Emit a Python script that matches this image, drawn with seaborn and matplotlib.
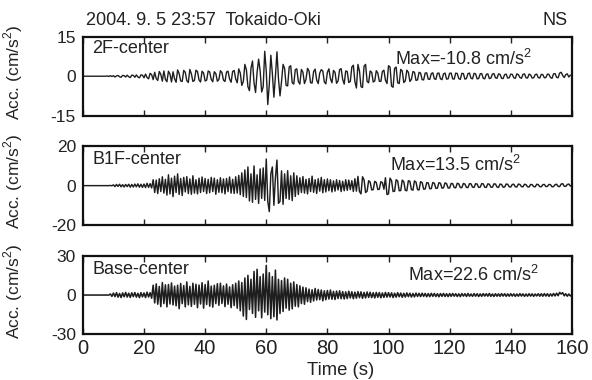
import numpy as np
import pandas as pd
import matplotlib
matplotlib.use("Agg")
import matplotlib.pyplot as plt
import seaborn as sns

# sampled acceleration records (cm/s^2), one value every 0.5 s from 0 to 160 s
DT = 0.5

ACC_2F = [
    0, 0, 0, 0, 0, 0, 0, 0, 0, 0, 0, 0, 0, 0, 0, 0, 0.1, -0.1, 0.2, -0.1,
    0.2, -0.3, 0.1, 0.3, -0.2, -0.4, 0.3, 0.2, -0.3, 0.4, -0.2, -0.5, 0.4, 0.3, -0.4, 0.5, -0.3, -0.6, 0.5, 0.4,
    -0.6, 0.8, -0.5, -1.0, 1.1, 0.6, -1.3, 1.5, -0.9, -1.6, 1.8, 0.7, -1.9, 2.0, -1.2, -2.1, 1.9, 0.8, -2.2, 1.7,
    -1.0, -2.3, 2.4, 1.0, -1.8, -2.0, 2.2, 1.5, -1.7, -2.4, 2.6, 0.9, -2.0, -1.6, 2.3, 1.8, -1.4, -2.2, 1.9, 1.2,
    -1.8, -1.5, 2.0, 1.6, -1.2, -2.1, 1.7, 1.0, -1.9, -1.3, 2.1, 1.4, -1.5, -2.0, 1.6, 1.9, -1.1, -2.3, 1.8, 2.2,
    -1.0, -2.5, 2.8, 1.2, -3.5, -2.0, 4.5, 2.5, -4.0, -5.5, 3.0, 5.8, -2.5, -6.2, 1.5, 6.5, 2.0, -6.0, -4.0, 9.5,
    2.0, -10.8, -3.0, 8.0, 1.0, -8.0, 0.0, 9.3, -1.0, -7.5, -2.0, 4.5, 3.0, -3.5, -3.7, 3.5, 4.0, -2.5, -3.0, 2.5,
    2.8, -2.0, -3.0, 2.6, 1.5, -2.8, -1.2, 3.0, 2.0, -2.5, -2.6, 1.8, 2.7, -1.5, -2.8, 1.2, 2.5, 2.0, -2.2, -2.9,
    1.5, 2.8, -1.0, -2.5, 2.2, 1.5, -2.7, -1.8, 2.5, 2.9, -1.2, -3.0, 2.0, 1.8, -2.4, -2.0, 3.5, 4.2, -2.0, -4.5,
    4.5, 2.0, -4.0, -4.3, 3.8, 4.5, -2.0, -2.5, 2.0, 1.5, -2.2, -1.8, 2.1, 1.2, -1.9, -2.0, 1.8, 2.3, -1.5, -2.8,
    4.0, 3.5, -3.8, -4.2, 3.0, 3.5, -2.5, -2.8, 2.6, 2.0, -2.4, -1.8, 2.3, 1.5, -2.0, -1.2, 1.8, 1.5, -1.6, -1.4,
    1.5, 1.2, -1.3, -1.4, 1.2, 1.3, -1.1, -1.2, 1.0, 1.3, -1.0, -1.2, 1.1, 1.2, -1.0, -1.3, 0.9, 1.2, -1.1, -1.0,
    1.1, 1.2, -1.0, -1.1, 1.2, 1.0, -0.9, -1.2, 1.1, 1.0, -1.1, -0.9, 1.0, 1.2, -0.8, -1.0, 1.1, 0.9, -1.0, -0.9,
    0.9, 1.0, -0.8, -1.0, 0.7, 0.9, -0.9, -0.7, 0.8, 1.0, -0.6, -0.8, 0.9, 0.7, -0.8, -0.9, 0.6, 0.8, -0.7, -0.6,
    0.8, 0.7, -0.6, -0.8, 0.9, 0.6, -0.5, -0.8, 0.7, 0.9, -0.6, -0.7, 0.8, 0.5, -0.7, -0.6, 0.6, 0.8, -0.5, -0.7,
    0.7, 0.6, -0.6, -0.5, 0.8, 0.7, -0.5, -0.8, 0.9, 1.0, -0.4, -0.6, 1.2, 1.5, 0.3, -0.5, 0.6, 0.9, -0.3, 0.4,
    0.2,
]

ACC_B1F = [
    0, 0, 0, 0, 0, 0, 0, 0, 0, 0, 0, 0, 0, 0, 0, 0, 0, 0, 0.1, -0.1,
    0.4, -0.5, 0.6, -0.4, 0.7, -0.6, 0.5, -0.7, 0.6, -0.5, 0.7, -0.8, 0.6, -0.7, 0.8, -0.6, 0.9, -0.8, 0.7, -0.9,
    0.8, -1.0, 1.2, -0.9, 1.0, -1.2, 3.0, -3.5, 2.8, -4.0, 3.5, -3.0, 4.5, -3.8, 3.2, -4.8, 5.5, -4.2, 3.8, -5.6,
    4.8, -3.5, 6.0, -4.5, 3.6, -5.0, 4.2, -3.2, 4.6, -4.0, 3.4, -4.4, 5.0, -3.8, 3.0, -4.2, 3.8, -3.5, 4.4, -3.0,
    3.6, -4.0, 3.2, -3.6, 4.2, -3.0, 3.8, -4.4, 3.0, -3.4, 4.0, -3.6, 3.4, -4.2, 3.6, -3.0, 4.4, -3.8, 3.2, -4.0,
    4.5, -3.8, 5.2, -4.6, 6.5, -5.5, 8.0, -6.0, 9.5, -7.8, 6.0, -8.5, 10.0, -7.0, 5.5, -9.0, 8.5, -6.5, 9.0, -7.5,
    13.5, -8.0, -13.2, 6.0, 9.5, -10.0, 4.0, 13.0, -9.0, -8.0, 7.5, -9.5, 6.0, -6.5, 7.6, -7.0, 5.0, -7.6, 6.5, -5.5,
    5.0, -4.5, 4.0, -3.5, 4.6, -3.8, 3.2, -4.2, 3.6, -3.0, 4.8, -3.4, 3.0, -4.0, 3.5, -2.8, 4.2, -3.6, 3.0, -3.2,
    3.4, -2.6, 3.0, -3.2, 2.4, -2.8, 3.0, -2.2, 2.6, -3.0, 2.2, -2.6, 3.0, -2.4, 2.8, -2.0, 2.5, -3.0, 3.5, -2.8,
    4.7, -3.0, -4.2, 4.5, 3.0, -3.5, -2.8, 2.5, 1.8, -2.2, -2.0, 2.2, 1.6, -2.0, -1.8, 2.0, 1.5, -1.8, 4.0, -4.5,
    -4.2, 3.8, 2.5, -3.0, -2.8, 3.0, 2.4, -2.6, -2.5, 2.8, 2.0, -2.4, -2.6, 2.5, 2.2, -2.0, -2.3, 2.4, 1.8, -2.0,
    -2.2, 2.0, 1.6, -1.8, -1.7, 1.5, 1.4, -1.6, -1.5, 1.6, 1.2, -1.4, -1.3, 1.5, 1.2, -1.3, -1.1, 1.4, 1.0, -1.2,
    -1.2, 1.1, 1.0, -1.0, -1.1, 1.2, 0.9, -1.0, -1.0, 1.1, 0.8, -0.9, -1.0, 1.0, 0.9, -0.8, -0.9, 1.0, 0.8, -0.9,
    -0.8, 1.0, 0.9, -0.8, -0.9, 0.9, 0.7, -0.8, -0.8, 0.9, 0.8, -0.7, -0.9, 0.8, 0.6, -0.8, -0.7, 0.8, 0.7, -0.6,
    -0.7, 0.6, 0.7, -0.6, -0.7, 0.8, 0.6, -0.5, -0.6, 0.7, 0.5, -0.6, -0.7, 0.6, 0.5, -0.5, -0.6, 0.7, 0.5, -0.5,
    -0.6, 0.5, 0.6, -0.5, -0.4, 0.6, 0.5, -0.6, -0.5, 0.5, 0.7, -0.4, -0.5, 0.8, 1.0, -0.3, -0.4, 0.6, 0.8, -0.2,
    0.2,
]

ACC_BASE = [
    0, 0, 0, 0, 0, 0, 0, 0, 0, 0, 0, 0, 0, 0, 0, 0, 0, 0, 0.8, -1.0,
    1.5, -1.2, 1.8, -1.6, 1.2, -1.9, 1.6, -1.3, 2.0, -1.5, 1.4, -1.8, 1.7, -1.2, 1.9, -1.6, 1.3, -2.0, 1.8, -1.4,
    1.6, -1.9, 2.2, -1.5, 1.8, -2.4, 7.5, -6.0, 8.5, -7.0, 6.5, -8.8, 9.5, -6.5, 7.8, -9.0, 8.0, -6.8, 9.2, -7.5,
    6.8, -8.2, 7.5, -10.4, 8.8, -6.5, 7.2, -9.0, 10.0, -7.4, 6.6, -8.6, 9.0, -7.0, 8.2, -9.6, 7.6, -6.8, 9.4, -10.0,
    8.0, -7.2, 10.7, -8.5, 6.8, -9.2, 7.4, -6.5, 8.6, -7.8, 9.0, -6.4, 7.0, -8.8, 8.4, -7.0, 6.2, -9.6, 7.8, -8.0,
    9.0, -10.0, 10.7, -12.0, 9.5, -16.0, 13.0, -18.6, 15.0, -11.0, 12.0, -14.0, 18.0, -17.0, 19.6, -12.0, 14.0, -17.3, 16.0, -13.0,
    22.6, -15.0, 17.0, -18.0, 14.0, -16.5, 19.0, -19.0, 12.0, -14.0, 11.0, -12.5, 13.0, -10.0, 12.0, -11.5, 9.0, -10.5, 10.0, -8.5,
    8.0, -9.0, 7.0, -6.5, 6.0, -7.0, 5.5, -5.0, 4.5, -5.5, 4.0, -4.5, 5.0, -3.8, 4.2, -3.5, 3.8, -4.4, 3.2, -3.6,
    3.5, -3.0, 3.8, -3.2, 2.8, -3.4, 3.0, -2.6, 3.2, -2.8, 2.6, -3.0, 2.4, -2.7, 2.9, -2.2, 2.5, -2.8, 2.2, -2.4,
    2.6, -2.0, 2.4, -2.5, 2.0, -2.2, 2.3, -1.8, 2.1, -2.0, 1.8, -2.2, 2.0, -1.7, 1.9, -2.1, 1.6, -1.8, 2.0, -1.6,
    1.8, -1.5, 1.7, -1.9, 1.4, -1.6, 1.8, -1.3, 1.5, -1.7, 1.3, -1.5, 1.6, -1.2, 1.4, -1.5, 1.2, -1.4, 1.5, -1.1,
    1.3, -1.2, 1.4, -1.0, 1.2, -1.3, 1.1, -1.2, 1.3, -1.0, 1.2, -1.1, 1.0, -1.3, 1.1, -1.0, 1.2, -1.1, 1.0, -1.2,
    1.1, -1.0, 1.2, -0.9, 1.0, -1.1, 0.9, -1.2, 1.1, -0.8, 1.0, -1.1, 1.2, -0.9, 0.8, -1.0, 1.1, -0.9, 1.0, -1.1,
    0.9, -1.0, 1.1, -0.8, 1.0, -0.9, 1.2, -1.0, 0.8, -1.1, 1.0, -0.9, 0.9, -1.0, 1.1, -0.8, 1.0, -1.0, 0.9, -0.9,
    1.0, -0.8, 0.9, -1.0, 0.8, -0.9, 1.1, -0.8, 0.9, -1.0, 0.8, -0.9, 1.0, -0.8, 0.9, -1.0, 0.8, -0.7, 1.0, -0.9,
    1.0, -0.9, 1.1, -0.8, 1.0, -1.0, 0.9, -0.8, 1.2, -0.7, 1.4, -0.5, 2.0, 0.8, 1.8, -0.6, 1.0, -0.9, 0.8, -0.7,
    0.3,
]

PANELS = ["2F-center", "B1F-center", "Base-center"]
MAX_LABELS = ["Max=-10.8 cm/s$^2$", "Max=13.5 cm/s$^2$", "Max=22.6 cm/s$^2$"]
Y_LIMITS = [15, 20, 30]
X_TICKS = [0, 20, 40, 60, 80, 100, 120, 140, 160]

sns.set_style("ticks")
plt.rcParams["font.family"] = ["Liberation Sans", "DejaVu Sans"]
plt.rcParams["axes.unicode_minus"] = False
plt.rcParams["mathtext.fontset"] = "custom"
plt.rcParams["mathtext.rm"] = "Liberation Sans"

TXT = "#222222"
FS = 13

records = [ACC_2F, ACC_B1F, ACC_BASE]
frames = []
for name, acc in zip(PANELS, records):
    t = np.arange(len(acc)) * DT
    frames.append(pd.DataFrame({"time": t, "acc": acc, "panel": name}))
df = pd.concat(frames, ignore_index=True)

fig, axes = plt.subplots(3, 1, figsize=(5.92, 3.8), dpi=100, sharex=True)
fig.subplots_adjust(left=0.14, right=0.966, top=0.903, bottom=0.12, hspace=0.39)

# label placement (axes fraction) for panel names and max values
name_pos = [(0.018, 0.85), (0.02, 0.83), (0.02, 0.83)]
max_pos = [(0.638, 0.72), (0.628, 0.76), (0.665, 0.75)]
line_w = [1.0, 1.05, 1.15]

for i, (ax, name) in enumerate(zip(axes, PANELS)):
    sub = df[df["panel"] == name]
    sns.lineplot(data=sub, x="time", y="acc", color="#1e1e1e", linewidth=line_w[i],
                 estimator=None, ax=ax)
    lim = Y_LIMITS[i]
    ax.set_xlim(0, 160)
    ax.set_ylim(-lim, lim)
    ax.set_yticks([-lim, 0, lim])
    ax.set_xticks(X_TICKS)
    ax.tick_params(axis="x", direction="in", top=True, bottom=True, length=4,
                   width=1, labelsize=14.5, pad=3.5, colors=TXT)
    ax.tick_params(axis="y", length=0, labelsize=12.5, pad=5, colors=TXT)
    for sp in ax.spines.values():
        sp.set_linewidth(1.6)
        sp.set_color("#111111")
    ax.set_ylabel("Acc. (cm/s$^2$)", fontsize=12.5, color=TXT)
    ax.yaxis.set_label_coords(-0.119, 0.55)
    ax.set_xlabel("")
    ax.text(name_pos[i][0], name_pos[i][1], name, transform=ax.transAxes,
            fontsize=FS, va="center", ha="left", color=TXT)
    ax.text(max_pos[i][0], max_pos[i][1], MAX_LABELS[i], transform=ax.transAxes,
            fontsize=FS, va="center", ha="left", color=TXT)

axes[2].set_xlabel("Time (s)", fontsize=13.3, color=TXT)
axes[2].xaxis.set_label_coords(0.528, -0.35)

fig.text(0.145, 0.945, "2004. 9. 5 23:57  Tokaido-Oki", fontsize=FS,
         ha="left", va="center", color=TXT)
fig.text(0.958, 0.945, "NS", fontsize=FS, ha="right", va="center", color=TXT)

fig.savefig("out.png", dpi=100)
